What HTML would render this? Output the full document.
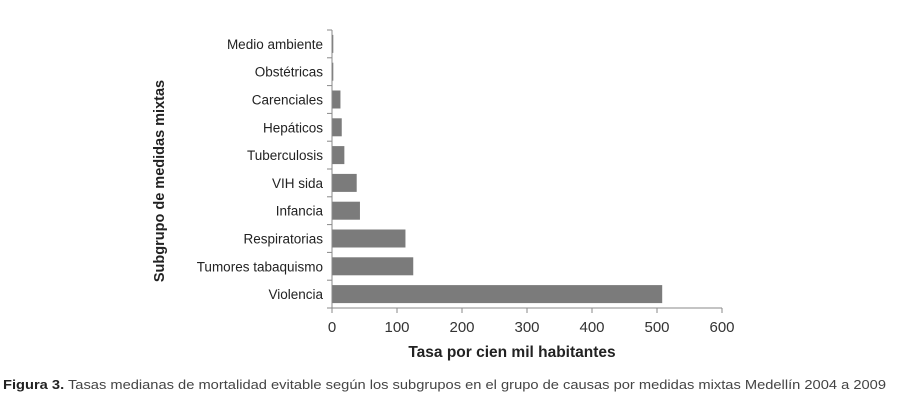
<!DOCTYPE html>
<html><head><meta charset="utf-8"><style>
body{margin:0;background:#fff;width:920px;height:407px;overflow:hidden}
svg text{font-family:"Liberation Sans",sans-serif}
</style></head><body>
<svg width="920" height="407">
<g id="plot"></g>
<text x="512" y="357" font-size="15.5" font-weight="bold" fill="#222" text-anchor="middle">Tasa por cien mil habitantes</text>
<text transform="translate(164,181) rotate(-90)" font-size="14.5" font-weight="bold" fill="#222" text-anchor="middle">Subgrupo de medidas mixtas</text>
<text x="3" y="389" font-size="13" fill="#444" textLength="883" lengthAdjust="spacingAndGlyphs"><tspan font-weight="bold" fill="#222">Figura 3.</tspan> Tasas medianas de mortalidad evitable según los subgrupos en el grupo de causas por medidas mixtas Medellín 2004 a 2009</text>
</svg>
<script>
const categories=["Medio ambiente","Obstétricas","Carenciales","Hepáticos","Tuberculosis","VIH sida","Infancia","Respiratorias","Tumores tabaquismo","Violencia"];
const values=[2,2,13,15,19,38,43,113,125,508];
const ticks=[0,100,200,300,400,500,600];
const NS="http://www.w3.org/2000/svg";
const g=document.getElementById('plot');
const x0=332,x1=722,yTop=30,yBot=308;
const band=(yBot-yTop)/categories.length;
const xs=v=>x0+(v-0)/(600-0)*(x1-x0);
function mk(t,a){const e=document.createElementNS(NS,t);for(const k in a)e.setAttribute(k,a[k]);g.appendChild(e);return e;}
categories.forEach((c,i)=>{
 const yc=yTop+band*(i+0.5);
 const r=mk('rect',{x:x0,y:yc-9,width:xs(values[i])-x0,height:18,fill:'#7b7b7b'});
 
 
 const t=mk('text',{x:323,y:yc+5,'font-size':13.5,fill:'#222','text-anchor':'end'});
 t.textContent=c;
 
 
});
for(let i=0;i<=categories.length;i++){const y=yTop+band*i;mk('line',{x1:x0-5,x2:x0,y1:y,y2:y,stroke:'#888'});}
ticks.forEach(v=>{
 mk('line',{x1:xs(v),x2:xs(v),y1:yBot,y2:yBot+5,stroke:'#888'});
 const t=mk('text',{x:xs(v),y:yBot+24,'font-size':15,fill:'#333','text-anchor':'middle'});
 t.textContent=v;
 
 
});
mk('line',{x1:x0,x2:x0,y1:yTop,y2:yBot,stroke:'#888'});
mk('line',{x1:x0,x2:x1,y1:yBot,y2:yBot,stroke:'#888'});
</script>
</body></html>
